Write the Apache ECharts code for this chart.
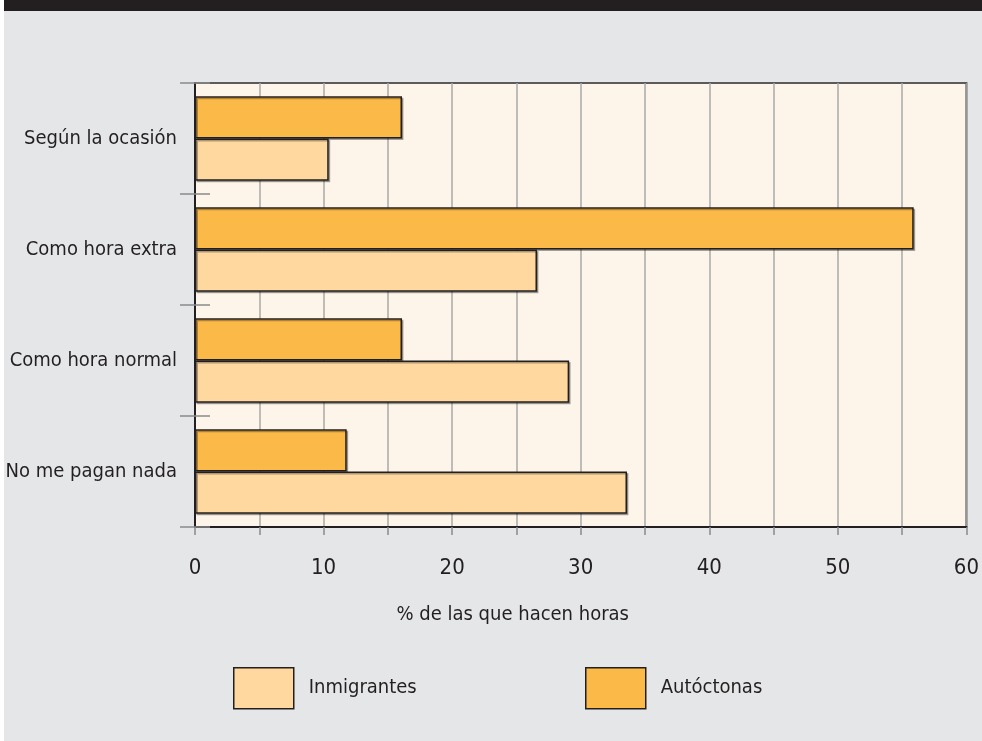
<!DOCTYPE html>
<html>
<head>
<meta charset="utf-8">
<script src="https://cdn.jsdelivr.net/npm/echarts@6/dist/echarts.min.js"></script>
<style>
html,body{margin:0;padding:0;background:#ffffff;}
#chart{width:982px;height:741px;}
</style>
</head>
<body>
<div id="chart"></div>
<script>
const categories = ['Según la ocasión', 'Como hora extra', 'Como hora normal', 'No me pagan nada'];
const autoctonas = [16.1, 55.9, 16.1, 11.8];
const inmigrantes = [10.4, 26.6, 29.1, 33.6];
const seriesNames = ['Inmigrantes', 'Autóctonas'];
const axisTitle = '% de las que hacen horas';

const FONT = "'Liberation Sans Narrow', 'DejaVu Sans Condensed', 'Roboto', sans-serif";
const TXT = '#231f20';

const chart = echarts.init(document.getElementById('chart'));
chart.setOption({
  animation: false,
  backgroundColor: '#ffffff',
  graphic: [
    { type: 'rect', z: -10, shape: { x: 4, y: 0, width: 978, height: 741 }, style: { fill: '#e5e6e8' } },
    { type: 'rect', z: -9, shape: { x: 4, y: 0, width: 978, height: 11 }, style: { fill: '#231f20' } }
  ],
  grid: {
    left: 195, right: 15, top: 83, bottom: 214,
    show: true, backgroundColor: '#fdf5e9', borderColor: '#5c5a5a', borderWidth: 2
  },
  legend: [
    {
      data: [seriesNames[0]], left: 233, top: 667, padding: 0, icon: 'rect',
      itemWidth: 60, itemHeight: 41,
      itemStyle: { borderColor: TXT, borderWidth: 1.5 },
      textStyle: { fontFamily: FONT, fontSize: 20, color: TXT, padding: [0, 0, 0, 10] }
    },
    {
      data: [seriesNames[1]], left: 585, top: 667, padding: 0, icon: 'rect',
      itemWidth: 60, itemHeight: 41,
      itemStyle: { borderColor: TXT, borderWidth: 1.5 },
      textStyle: { fontFamily: FONT, fontSize: 20, color: TXT, padding: [0, 0, 0, 10] }
    }
  ],
  xAxis: {
    type: 'value', min: 0, max: 60, interval: 5,
    axisLine: { show: true, lineStyle: { color: TXT, width: 2 } },
    axisTick: { show: true, length: 8, lineStyle: { color: '#8a8a8a', width: 1.5 } },
    splitLine: { show: true, lineStyle: { color: '#a8a8a8', width: 1.5 } },
    axisLabel: {
      margin: 30, fontFamily: FONT, fontSize: 22, color: TXT,
      formatter: v => (v % 10 === 0 ? String(v) : '')
    },
    name: axisTitle, nameLocation: 'middle', nameGap: 78,
    nameTextStyle: { fontFamily: FONT, fontSize: 20, color: TXT, padding: [0, 136, 0, 0] }
  },
  yAxis: [
    {
      type: 'category', data: categories, inverse: true,
      axisLine: { show: true, onZero: false, lineStyle: { color: TXT, width: 2 } },
      axisTick: { show: true, length: 15, lineStyle: { color: '#8a8a8a', width: 1.5 } },
      axisLabel: { margin: 18, fontFamily: FONT, fontSize: 20, color: TXT },
      splitLine: { show: false }
    },
    {
      type: 'category', data: categories, inverse: true, position: 'left',
      axisLine: { show: false },
      axisTick: { show: true, inside: true, length: 15, lineStyle: { color: '#8a8a8a', width: 1.5 } },
      axisLabel: { show: false },
      splitLine: { show: false }
    }
  ],
  series: [
    {
      name: seriesNames[1], type: 'bar', data: autoctonas, yAxisIndex: 0,
      barGap: '0%', barCategoryGap: '24%',
      itemStyle: { color: '#fbb947', borderColor: TXT, borderWidth: 1.5,
        shadowColor: 'rgba(0,0,0,0.3)', shadowOffsetX: 1.5, shadowOffsetY: 1.5 }
    },
    {
      name: seriesNames[0], type: 'bar', data: inmigrantes, yAxisIndex: 0,
      barGap: '0%', barCategoryGap: '24%',
      itemStyle: { color: '#fed89e', borderColor: TXT, borderWidth: 1.5,
        shadowColor: 'rgba(0,0,0,0.3)', shadowOffsetX: 1.5, shadowOffsetY: 1.5 }
    }
  ]
});
</script>
</body>
</html>
